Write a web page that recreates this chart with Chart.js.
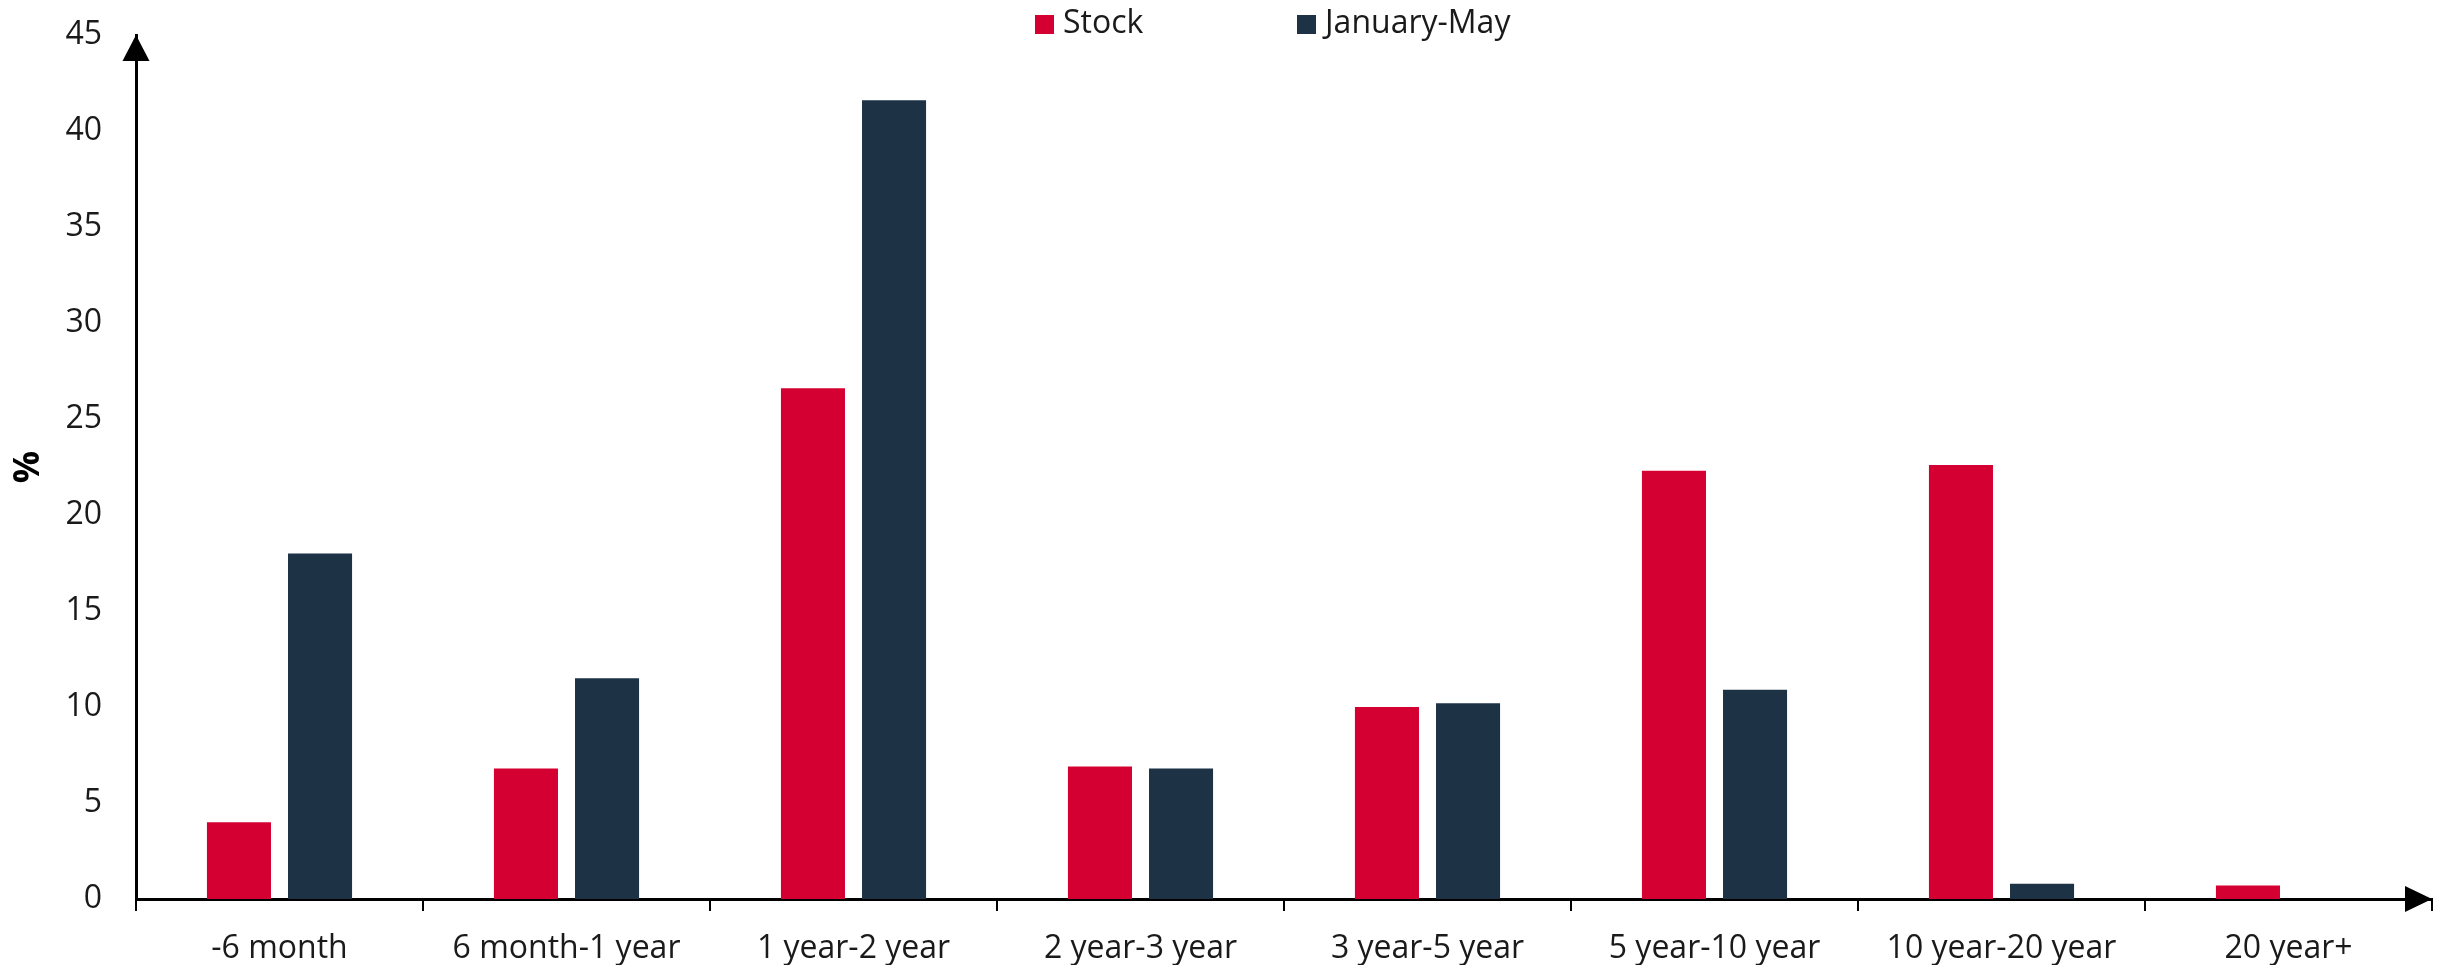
<!DOCTYPE html>
<html>
<head>
<meta charset="utf-8">
<title>Stock vs January-May</title>
<script src="https://cdn.jsdelivr.net/npm/chart.js@4.4.1/dist/chart.umd.min.js"></script>
<style>
    body { margin: 0; background: #fff; }
    #wrap { position: relative; width: 2460px; height: 967px; }
    #legend { position: absolute; top: 0; left: 0; font-family: "Open Sans", sans-serif; font-size: 32px; color: #1a1a1a; }
    .item { position: absolute; top: 1px; white-space: nowrap; line-height: 40px; }
    .box { display: inline-block; width: 19px; height: 19px; margin-right: 9px; vertical-align: -1px; }
</style>
</head>
<body>
<div id="wrap">
    <canvas id="bondChart"></canvas>
    <div id="legend">
        <div class="item" style="left:1035px"><span class="box" style="background:#D50032"></span>Stock</div>
        <div class="item" style="left:1297px"><span class="box" style="background:#1E3246"></span>January-May</div>
    </div>
</div>
<script>
const categories = ['-6 month', '6 month-1 year', '1 year-2 year', '2 year-3 year', '3 year-5 year', '5 year-10 year', '10 year-20 year', '20 year+'];
const stock = [4.0, 6.8, 26.6, 6.9, 10.0, 22.3, 22.6, 0.7];
const januaryMay = [18.0, 11.5, 41.6, 6.8, 10.2, 10.9, 0.8, 0];
const yTicks = [0, 5, 10, 15, 20, 25, 30, 35, 40, 45];

// arrow heads at the end of both axes
const axisArrows = {
    id: 'axisArrows',
    afterDraw(chart) {
        const c = chart.ctx;
        const x = chart.scales.x;
        const y = chart.scales.y;
        c.save();
        c.fillStyle = '#000';
        c.beginPath();
        c.moveTo(y.right, y.top);
        c.lineTo(y.right - 13.5, y.top + 26);
        c.lineTo(y.right + 13.5, y.top + 26);
        c.closePath();
        c.fill();
        c.beginPath();
        c.moveTo(x.right, x.top);
        c.lineTo(x.right - 27, x.top - 13);
        c.lineTo(x.right - 27, x.top + 13);
        c.closePath();
        c.fill();
        c.restore();
    }
};

document.addEventListener("DOMContentLoaded", function() {
    const ctx = document.getElementById("bondChart").getContext("2d");
    Chart.defaults.font.family = '"Open Sans", sans-serif';
    Chart.defaults.color = '#1a1a1a';

    const chart = new Chart(ctx, {
        type: 'bar',
        data: {
            labels: categories,
            datasets: [{
                label: 'Stock',
                data: stock,
                backgroundColor: '#D50032'
            }, {
                label: 'January-May',
                data: januaryMay,
                backgroundColor: '#1E3246'
            }]
        },
        options: {
            responsive: true,
            maintainAspectRatio: false,
            animation: false,
            categoryPercentage: 0.565,
            barPercentage: 0.79,
            layout: {
                padding: { top: 35, right: 28, bottom: 2, left: 0 }
            },
            plugins: {
                legend: { display: false },
                tooltip: { enabled: false }
            },
            scales: {
                x: {
                    afterFit: function(axis) { axis.height = 66; },
                    grid: {
                        drawOnChartArea: false,
                        drawTicks: true,
                        tickLength: 12,
                        color: '#000',
                        lineWidth: 2
                    },
                    border: { display: true, color: '#000', width: 3 },
                    ticks: {
                        font: { size: 32 },
                        padding: 19,
                        maxRotation: 0,
                        autoSkip: false
                    }
                },
                y: {
                    min: 0,
                    max: 45,
                    afterFit: function(axis) {
                        axis.width = 136;
                        axis.paddingTop = 0;
                        axis.paddingBottom = 0;
                    },
                    afterBuildTicks: function(axis) {
                        axis.ticks = yTicks.map(v => ({ value: v }));
                    },
                    grid: { display: false, drawTicks: false },
                    border: { display: true, color: '#000', width: 3 },
                    ticks: {
                        font: { size: 32 },
                        padding: 34
                    },
                    title: {
                        display: true,
                        text: '%',
                        color: '#000',
                        font: { size: 36, weight: 'bold' },
                        padding: { top: 7, bottom: 15 }
                    }
                }
            }
        },
        plugins: [axisArrows]
    });
});
</script>
</body>
</html>
